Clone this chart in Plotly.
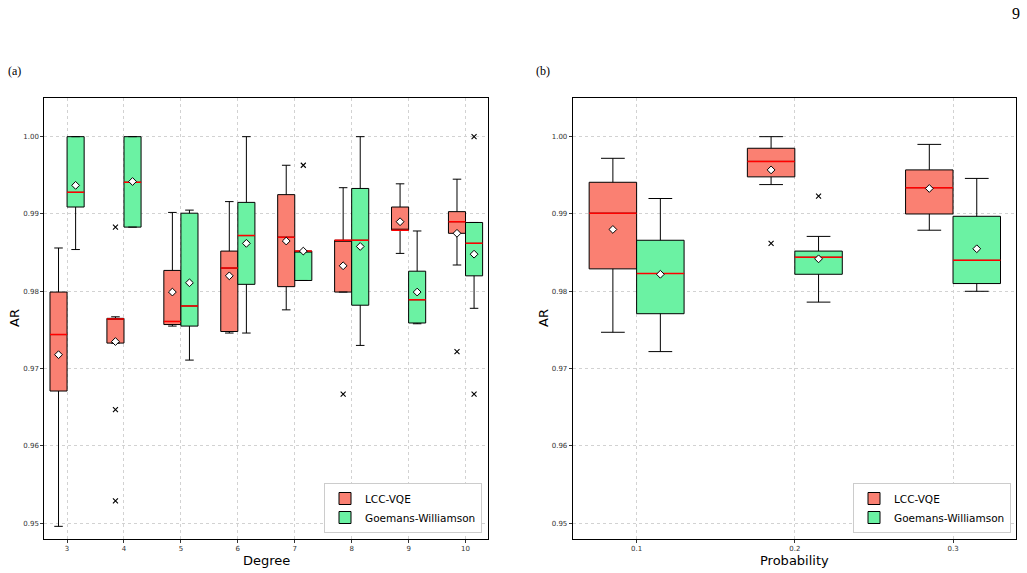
import plotly.graph_objects as go

# ---------------- data: panel (a) ----------------
degrees = [3, 4, 5, 6, 7, 8, 9, 10]
lcc_q1 = [0.9671, 0.9733, 0.9757, 0.9748, 0.9806, 0.9799, 0.9879, 0.9875]
lcc_med = [0.9744, 0.9764, 0.9761, 0.9830, 0.9870, 0.9866, 0.9879, 0.9890]
lcc_q3 = [0.9799, 0.9765, 0.9827, 0.9852, 0.9925, 0.9866, 0.9909, 0.9903]
lcc_lo = [0.9496, 0.9733, 0.9755, 0.9746, 0.9776, 0.9799, 0.9849, 0.9834]
lcc_hi = [0.9856, 0.9767, 0.9902, 0.9916, 0.9963, 0.9934, 0.9939, 0.9945]
lcc_mean = [0.9718, 0.9735, 0.9799, 0.9820, 0.9865, 0.9833, 0.9890, 0.9875]
lcc_out_x = [4, 4, 4, 8, 10]
lcc_out_y = [0.9883, 0.9647, 0.9529, 0.9667, 0.9722]

gw_q1 = [0.9909, 0.9883, 0.9755, 0.9809, 0.9814, 0.9782, 0.9759, 0.9820]
gw_med = [0.9928, 0.9941, 0.9781, 0.9872, 0.9852, 0.9866, 0.9789, 0.9862]
gw_q3 = [1.0000, 1.0000, 0.9901, 0.9915, 0.9852, 0.9933, 0.9826, 0.9889]
gw_lo = [0.9854, 0.9883, 0.9711, 0.9746, 0.9814, 0.9730, 0.9758, 0.9778]
gw_hi = [1.0000, 1.0000, 0.9905, 1.0000, 0.9852, 1.0000, 0.9878, 0.9889]
gw_mean = [0.9937, 0.9942, 0.9811, 0.9862, 0.9852, 0.9858, 0.9799, 0.9848]
gw_out_x = [7, 10, 10]
gw_out_y = [0.9963, 1.0000, 0.9667]

# ---------------- data: panel (b) ----------------
probs = [0.1, 0.2, 0.3]
p_lcc_q1 = [0.9829, 0.9948, 0.9900]
p_lcc_med = [0.9901, 0.9968, 0.9934]
p_lcc_q3 = [0.9941, 0.9985, 0.9957]
p_lcc_lo = [0.9747, 0.9938, 0.9879]
p_lcc_hi = [0.9972, 1.0000, 0.9990]
p_lcc_mean = [0.9880, 0.9957, 0.9933]
p_lcc_out_x = [0.2]
p_lcc_out_y = [0.9862]

p_gw_q1 = [0.9771, 0.9822, 0.9810]
p_gw_med = [0.9823, 0.9844, 0.9840]
p_gw_q3 = [0.9866, 0.9852, 0.9897]
p_gw_lo = [0.9722, 0.9786, 0.9800]
p_gw_hi = [0.9920, 0.9871, 0.9946]
p_gw_mean = [0.9822, 0.9842, 0.9855]
p_gw_out_x = [0.2]
p_gw_out_y = [0.9923]

series_names = ["LCC-VQE", "Goemans-Williamson"]
x_ticks_b = ["0.1", "0.2", "0.3"]

RED = "#fa8072"
GREEN = "#6bf2a3"

fig = go.Figure()


def add_group(xs, step, side, q1, med, q3, lo, hi, mean, ox, oy, name, color,
              xa, ya, legend):
    w = 0.3 * step
    off = -w / 2 if side == 0 else w / 2
    centers = [x + off for x in xs]
    fig.add_trace(go.Box(
        x=centers, q1=q1, median=med, q3=q3, lowerfence=lo, upperfence=hi,
        width=w, whiskerwidth=0.5, boxpoints=False, name=name,
        fillcolor=color, line=dict(color="black", width=1),
        xaxis=xa, yaxis=ya, legend=legend, showlegend=True,
        hoverinfo="skip"))
    mx, my = [], []
    for c, m in zip(centers, med):
        mx += [c - w / 2, c + w / 2, None]
        my += [m, m, None]
    fig.add_trace(go.Scatter(x=mx, y=my, mode="lines",
                             line=dict(color="red", width=1.5),
                             xaxis=xa, yaxis=ya, showlegend=False,
                             hoverinfo="skip"))
    fig.add_trace(go.Scatter(x=centers, y=mean, mode="markers",
                             marker=dict(symbol="diamond", size=6, color="white",
                                         line=dict(color="black", width=1)),
                             xaxis=xa, yaxis=ya, showlegend=False,
                             hoverinfo="skip"))
    fig.add_trace(go.Scatter(x=[x + off for x in ox], y=oy, mode="markers",
                             marker=dict(symbol="x-thin", size=5, color="black",
                                         line=dict(color="black", width=1.1)),
                             xaxis=xa, yaxis=ya, showlegend=False,
                             hoverinfo="skip"))


add_group(degrees, 1.0, 0, lcc_q1, lcc_med, lcc_q3, lcc_lo, lcc_hi, lcc_mean,
          lcc_out_x, lcc_out_y, series_names[0], RED, "x", "y", "legend")
add_group(degrees, 1.0, 1, gw_q1, gw_med, gw_q3, gw_lo, gw_hi, gw_mean,
          gw_out_x, gw_out_y, series_names[1], GREEN, "x", "y", "legend")
add_group(probs, 0.1, 0, p_lcc_q1, p_lcc_med, p_lcc_q3, p_lcc_lo, p_lcc_hi,
          p_lcc_mean, p_lcc_out_x, p_lcc_out_y, series_names[0], RED,
          "x2", "y2", "legend2")
add_group(probs, 0.1, 1, p_gw_q1, p_gw_med, p_gw_q3, p_gw_lo, p_gw_hi,
          p_gw_mean, p_gw_out_x, p_gw_out_y, series_names[1], GREEN,
          "x2", "y2", "legend2")

W, H = 1027, 573
tickfont = dict(family="DejaVu Sans", size=7, color="#333")
axis_common = dict(showline=True, mirror=True, linecolor="black", linewidth=1,
                   zeroline=False, showgrid=True, gridcolor="#d2d2d2",
                   griddash="dot", gridwidth=0.8, ticks="outside", ticklen=3,
                   tickcolor="#333", tickfont=tickfont)
ydom = [34.3 / H, 475 / H]
yticks = [0.95, 0.96, 0.97, 0.98, 0.99, 1.00]

legend_common = dict(yanchor="bottom", xanchor="right", bgcolor="white",
                     bordercolor="#cccccc", borderwidth=1,
                     font=dict(family="DejaVu Sans", size=10.5, color="black"),
                     tracegroupgap=0, itemwidth=30)

fig.update_layout(
    width=W, height=H, margin=dict(l=0, r=0, t=0, b=0),
    paper_bgcolor="white", plot_bgcolor="white", boxmode="overlay",
    xaxis=dict(domain=[44.3 / W, 488.3 / W], range=[2.6, 10.4],
               tickvals=degrees, ticktext=[str(d) for d in degrees],
               anchor="y", **axis_common),
    yaxis=dict(domain=ydom, range=[0.948, 1.005], tickvals=yticks,
               tickformat=".2f", anchor="x", **axis_common),
    xaxis2=dict(domain=[572.7 / W, 1016 / W], range=[0.0596, 0.3398],
                tickvals=probs, ticktext=x_ticks_b, anchor="y2", **axis_common),
    yaxis2=dict(domain=ydom, range=[0.948, 1.005], tickvals=yticks,
                tickformat=".2f", anchor="x2", **axis_common),
    legend=dict(x=482 / W, y=(H - 533) / H, **legend_common),
    legend2=dict(x=1011 / W, y=(H - 533) / H, **legend_common),
    showlegend=True,
)

title_font = dict(family="DejaVu Sans", size=13, color="black")
serif = dict(family="Liberation Serif", size=12, color="black")
annots = [
    dict(text="AR", x=14 / W, y=(H - 318) / H, textangle=-90, font=title_font),
    dict(text="AR", x=543 / W, y=(H - 318) / H, textangle=-90, font=title_font),
    dict(text="Degree", x=266.3 / W, y=(H - 560) / H, font=title_font),
    dict(text="Probability", x=794.3 / W, y=(H - 560) / H, font=title_font),
    dict(text="(a)", x=14 / W, y=(H - 71) / H, font=serif),
    dict(text="(b)", x=543 / W, y=(H - 71) / H, font=serif),
    dict(text="9", x=1016 / W, y=(H - 13) / H,
         font=dict(family="Liberation Serif", size=16, color="black")),
]
for a in annots:
    fig.add_annotation(xref="paper", yref="paper", showarrow=False,
                       xanchor="center", yanchor="middle", **a)

fig.write_html("out.html")
